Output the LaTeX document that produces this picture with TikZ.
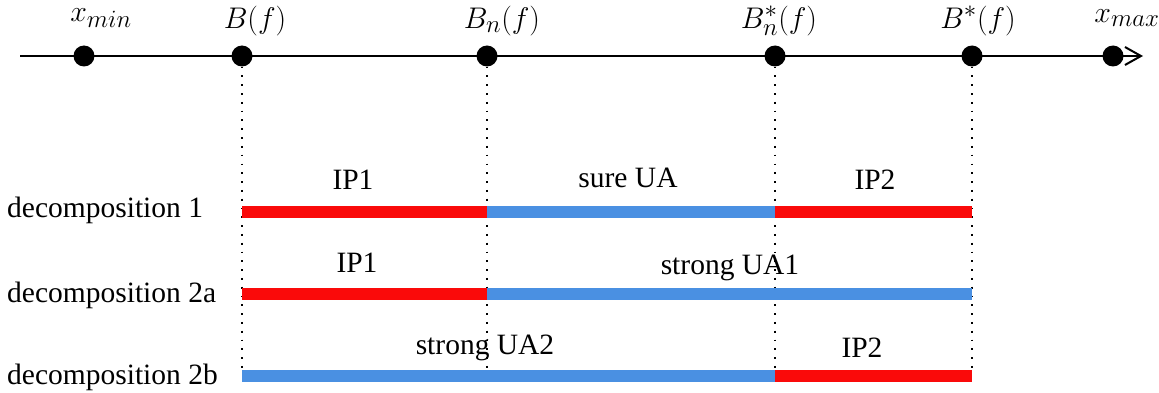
\documentclass[tikz,border=0pt]{standalone}
\usepackage{fontspec}
\setmainfont{Liberation Serif}
\usetikzlibrary{arrows.meta}
\definecolor{ipred}{RGB}{250,10,10}
\definecolor{uablue}{RGB}{74,144,226}
\begin{document}
\begin{tikzpicture}[x=1pt,y=-1pt,
  dotnode/.style={circle,fill=black,inner sep=0pt,minimum size=21pt},
  lbl/.style={inner sep=0pt,font=\fontsize{29.5}{34}\selectfont},
  mlbl/.style={inner sep=0pt,font=\fontsize{24.88}{30}\selectfont,scale=1.2,transform shape},
  vguide/.style={line width=1.8pt,dash pattern=on 1.8pt off 7pt},
  ipbar/.style={line width=12pt,ipred},
  uabar/.style={line width=12pt,uablue},
  axisline/.style={line width=2pt,-{Straight Barb[length=16pt,width=18pt,line width=2pt]}}]
\useasboundingbox (0,0) rectangle (1159,393);
% axis
\coordinate (axL) at (20,56);
\coordinate (axR) at (1143,56);
\draw[axisline] (axL) -- (axR);
\node[dotnode] (xmin) at (84,56) {};
\node[dotnode] (B) at (242,56) {};
\node[dotnode] (Bn) at (487,56) {};
\node[dotnode] (Bns) at (775,56) {};
\node[dotnode] (Bs) at (972,56) {};
\node[dotnode] (xmax) at (1113,56) {};
\node[mlbl] at (101,18) {$x_{min}$};
\node[mlbl] at (255,21) {$B(f)$};
\node[mlbl] at (502,21) {$B_n(f)$};
\node[mlbl] at (779,21) {$B_n^*(f)$};
\node[mlbl] at (978,21) {$B^*(f)$};
\node[mlbl] at (1127,18) {$x_{max}$};
% guides
\coordinate (gB) at (242,371);
\coordinate (gBn) at (487,371);
\coordinate (gBns) at (775,371);
\coordinate (gBs) at (972,371);
\draw[vguide] (B) -- (gB);
\draw[vguide] (Bn) -- (gBn);
\draw[vguide] (Bns) -- (gBns);
\draw[vguide] (Bs) -- (gBs);
% decomposition 1
\coordinate (a1) at (242,212);
\coordinate (b1) at (487,212);
\coordinate (c1) at (775,212);
\coordinate (d1) at (972,212);
\draw[ipbar] (a1) -- (b1);
\draw[uabar] (b1) -- (c1);
\draw[ipbar] (c1) -- (d1);
\node[lbl,anchor=west] (dec1) at (7,210) {decomposition 1};
\node[lbl] (ip1a) at (353,180) {IP1};
\node[lbl] (sua) at (628,178) {sure UA};
\node[lbl] (ip2a) at (875,180) {IP2};
% decomposition 2a
\coordinate (a2) at (242,294);
\coordinate (b2) at (487,294);
\coordinate (d2) at (972,294);
\draw[ipbar] (a2) -- (b2);
\draw[uabar] (b2) -- (d2);
\node[lbl,anchor=west] (dec2a) at (7,295) {decomposition 2a};
\node[lbl] (ip1b) at (357,263) {IP1};
\node[lbl] (sua1) at (730,268) {strong UA1};
% decomposition 2b
\coordinate (a3) at (242,376);
\coordinate (c3) at (775,376);
\coordinate (d3) at (972,376);
\draw[uabar] (a3) -- (c3);
\draw[ipbar] (c3) -- (d3);
\node[lbl,anchor=west] (dec2b) at (7,377) {decomposition 2b};
\node[lbl] (sua2) at (485,348) {strong UA2};
\node[lbl] (ip2b) at (862,348) {IP2};
\end{tikzpicture}
\end{document}
